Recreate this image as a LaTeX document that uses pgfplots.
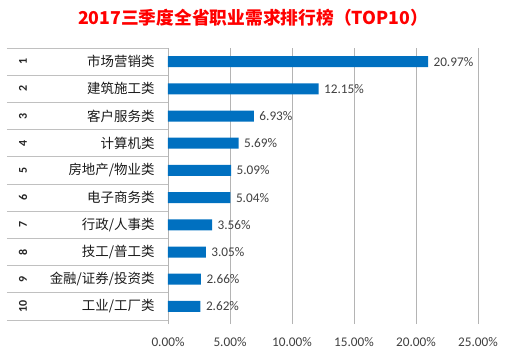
\documentclass[border=0pt]{standalone}
\usepackage{pgfplots}
\pgfplotsset{compat=1.18}
\usepackage{fontspec}
\setmainfont{Carlito}
\newfontfamily\cjk{Noto Sans CJK SC}
\definecolor{barblue}{HTML}{0070C0}
\definecolor{gridgray}{HTML}{B4B4B4}
\definecolor{sepgray}{HTML}{C0C0C0}
\definecolor{lblgray}{HTML}{404040}
\begin{document}
\begin{tikzpicture}
\begin{axis}[
  name=ax,
  scale only axis, width=310bp, height=272bp,
  xmin=0, xmax=25, ymin=0.5, ymax=10.5, y dir=reverse,
  clip=false,
  /pgf/number format/assume math mode=true,
  xbar, bar width=11bp,
  axis line style={draw=none},
  xmajorgrids, grid style={draw=gridgray, line width=0.8bp},
  xtick={0,5,10,15,20,25},
  xticklabels={0.00\%,5.00\%,10.00\%,15.00\%,20.00\%,25.00\%},
  xtick pos=bottom, tick align=outside, major tick length=4bp,
  x tick style={draw=gridgray, line width=0.8bp},
  xticklabel style={font=\fontsize{13.3}{15}\selectfont, text=lblgray, yshift=-10bp},
  ytick={1,...,10},
  yticklabels={市场营销类,建筑施工类,客户服务类,计算机类,房地产/物业类,电子商务类,行政/人事类,技工/普工类,金融/证券/投资类,工业/工厂类},
  yticklabel style={font=\cjk\fontsize{13.5}{15}\selectfont, text=black!90, xshift=-6bp},
  y tick style={draw=none},
  nodes near coords={\pgfmathprintnumber[fixed,fixed zerofill,precision=2,assume math mode=true]{\pgfplotspointmeta}\%},
  point meta=x,
  nodes near coords style={font=\fontsize{13.3}{15}\selectfont, text=lblgray, anchor=west, xshift=2bp},
]
\addplot[fill=barblue, draw=none] coordinates {
(20.97,1) (12.15,2) (6.93,3) (5.69,4) (5.09,5) (5.04,6) (3.56,7) (3.05,8) (2.66,9) (2.62,10)
};
\pgfplotsinvokeforeach{0.5,1.5,...,10.5}{
  \draw[sepgray, line width=0.8bp] ([xshift=-161bp]axis cs:0,#1) -- (axis cs:0,#1);
}
\pgfplotsinvokeforeach{1,...,10}{
  \node[rotate=90, font=\bfseries\fontsize{12}{14}\selectfont, text=black!85] at ([xshift=-145bp]axis cs:0,#1) {#1};
}
\coordinate (O) at (axis cs:0,10.5);
\end{axis}
\pgfresetboundingbox
\useasboundingbox ([shift={(-168bp,-35bp)}]O) rectangle ([shift={(342bp,320bp)}]O);
\node[font=\cjk\bfseries\fontsize{17.8}{20}\selectfont, text=red] at ([shift={(85bp,302bp)}]O) {2017三季度全省职业需求排行榜（TOP10）};
\end{tikzpicture}
\end{document}
